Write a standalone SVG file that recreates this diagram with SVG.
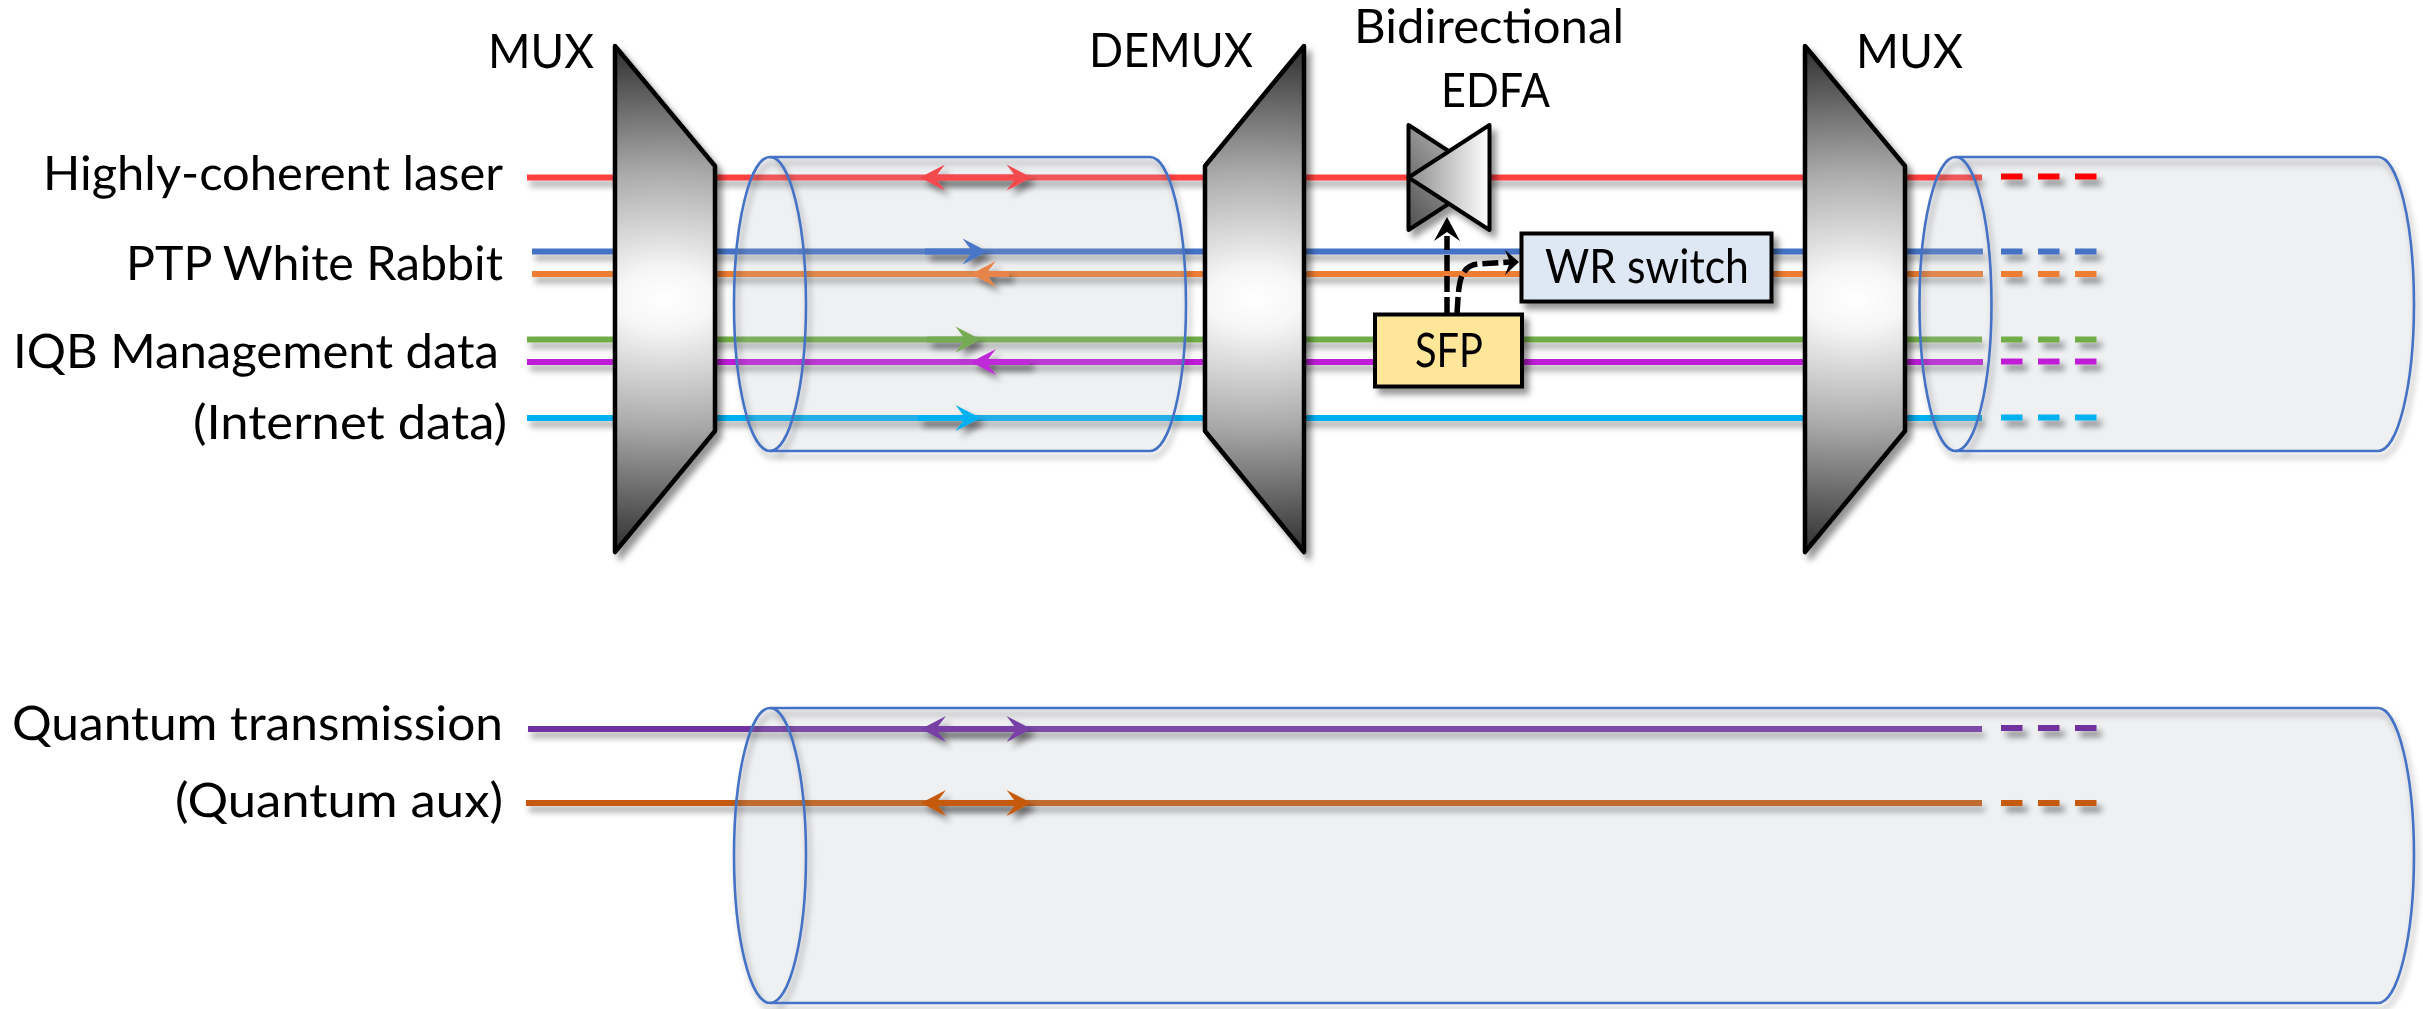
<svg xmlns="http://www.w3.org/2000/svg" width="2423" height="1009" viewBox="0 0 2423 1009">
<style>
text{font-family:"Lato","Liberation Sans",sans-serif;font-size:47.500px;fill:#000;text-rendering:geometricPrecision}
.ln{stroke-width:6;fill:none}
.dash{stroke-width:6;fill:none;stroke-dasharray:21.5 15.5}
.tube{fill:#afb4be;fill-opacity:.2;stroke:none}
.tubeo{fill:none;stroke:#4472c4;stroke-width:2.6}
.mux{fill:url(#muxg);stroke:#000;stroke-width:4.500;stroke-linejoin:round}
.edfa{stroke:#000;stroke-width:4;stroke-linejoin:round}
.box{stroke:#000;stroke-width:4}
.dk{fill:none;stroke:#000;stroke-width:5.500;stroke-dasharray:16 5}
</style>
<defs>
<filter id="sh" filterUnits="userSpaceOnUse" x="0" y="0" width="2423" height="1009"><feDropShadow dx="5" dy="6" stdDeviation="3" flood-color="#000" flood-opacity=".42"/></filter>
<filter id="sha" filterUnits="userSpaceOnUse" x="0" y="0" width="2423" height="1009"><feDropShadow dx="5" dy="6" stdDeviation="3" flood-color="#000" flood-opacity=".45"/></filter>
<filter id="shl" filterUnits="userSpaceOnUse" x="0" y="0" width="2423" height="1009"><feDropShadow dx="3" dy="6" stdDeviation="3" flood-color="#000" flood-opacity=".34"/></filter>
<radialGradient id="muxg" cx=".5" cy=".5" r=".5" gradientTransform="translate(.5 .5) scale(8 1) translate(-.5 -.5)">
<stop offset="0" stop-color="#fff"/><stop offset=".12" stop-color="#f6f6f6"/><stop offset=".5" stop-color="#ababab"/><stop offset="1" stop-color="#303030"/>
</radialGradient>
<linearGradient id="edfaL" x1="0" y1="1" x2="1" y2="0"><stop offset="0" stop-color="#4f4f4f"/><stop offset="1" stop-color="#d4d4d4"/></linearGradient>
<linearGradient id="edfaR" x1="0" y1=".5" x2="1" y2=".5"><stop offset="0" stop-color="#8c8c8c"/><stop offset="1" stop-color="#fff"/></linearGradient>
<path id="hd" d="M0,0 L-25,-13 L-15,0 L-25,13Z"/>
</defs>
<rect width="2423" height="1009" fill="#fff"/>

<g id="connectors" filter="url(#shl)">
<line class="ln" x1="527" y1="177.500" x2="1982" y2="177.500" stroke="#ff4040"/>
<line class="ln" x1="532" y1="251.500" x2="1983" y2="251.500" stroke="#4472c4"/>
<line class="ln" x1="532" y1="274" x2="1983" y2="274" stroke="#ed7d31"/>
<line class="ln" x1="527" y1="339.500" x2="1982" y2="339.500" stroke="#70ad47"/>
<line class="ln" x1="527" y1="362" x2="1983" y2="362" stroke="#bf1fd8"/>
<line class="ln" x1="527" y1="418" x2="1982" y2="418" stroke="#00b0f0"/>
<line class="ln" x1="528" y1="729" x2="1982" y2="729" stroke="#7030a0"/>
<line class="ln" x1="526" y1="803" x2="1982" y2="803" stroke="#c55a11"/>
</g>

<g id="fibre-1"><path class="tube" d="M770,157 L1150,157 A36,147 0 0 1 1150,451 L770,451 A36,147 0 0 1 770,157Z"/><g filter="url(#shl)"><path class="tubeo" d="M770,157 L1150,157 A36,147 0 0 1 1150,451 L770,451"/><ellipse class="tubeo" cx="770" cy="304" rx="36" ry="147"/></g></g>
<g id="fibre-2"><path class="tube" d="M1955.500,157 L2378,157 A36,147 0 0 1 2378,451 L1955.500,451 A36,147 0 0 1 1955.500,157Z"/><g filter="url(#shl)"><path class="tubeo" d="M1955.500,157 L2378,157 A36,147 0 0 1 2378,451 L1955.500,451"/><ellipse class="tubeo" cx="1955.500" cy="304" rx="36" ry="147"/></g></g>
<g id="fibre-3"><path class="tube" d="M770,708 L2378,708 A36,147.500 0 0 1 2378,1003 L770,1003 A36,147.500 0 0 1 770,708Z"/><g filter="url(#shl)"><path class="tubeo" d="M770,708 L2378,708 A36,147.500 0 0 1 2378,1003 L770,1003"/><ellipse class="tubeo" cx="770" cy="855.500" rx="36" ry="147.500"/></g></g>

<g id="connector-arrows" filter="url(#sha)">
<g id="arrow-red" fill="#f44a4e"><line class="ln" x1="930" y1="177.500" x2="1020" y2="177.500" stroke="#f44a4e"/><use href="#hd" transform="translate(1031.500 177.500)"/><use href="#hd" transform="translate(920 177.500) scale(-1 1)"/></g>
<g id="arrow-blue" fill="#4a76c6"><line class="ln" x1="925" y1="251.500" x2="975" y2="251.500" stroke="#4a76c6"/><use href="#hd" transform="translate(987.500 251.500)"/></g>
<g id="arrow-orange" fill="#e6844a"><line class="ln" x1="1009" y1="274" x2="985" y2="274" stroke="#e6844a"/><use href="#hd" transform="translate(971 274) scale(-1 1)"/></g>
<g id="arrow-green" fill="#74ab52"><line class="ln" x1="927" y1="339.500" x2="968" y2="339.500" stroke="#74ab52"/><use href="#hd" transform="translate(980.500 339.500)"/></g>
<g id="arrow-purple" fill="#bf2cd8"><line class="ln" x1="1029" y1="362" x2="985" y2="362" stroke="#bf2cd8"/><use href="#hd" transform="translate(971 362) scale(-1 1)"/></g>
<g id="arrow-cyan" fill="#00b0f0"><line class="ln" x1="918" y1="418" x2="968" y2="418" stroke="#00b0f0"/><use href="#hd" transform="translate(980.500 418)"/></g>
<g id="arrow-qt" fill="#7840a5"><line class="ln" x1="930" y1="729" x2="1020" y2="729" stroke="#7840a5"/><use href="#hd" transform="translate(1031.500 729)"/><use href="#hd" transform="translate(921 729) scale(-1 1)"/></g>
<g id="arrow-qa" fill="#c55a11"><line class="ln" x1="930" y1="803" x2="1020" y2="803" stroke="#c55a11"/><use href="#hd" transform="translate(1031.500 803)"/><use href="#hd" transform="translate(921 803) scale(-1 1)"/></g>
<path class="dash" d="M2001,176.500H2097" stroke="#f00"/>
<path class="dash" d="M2001,251.500H2097" stroke="#4472c4"/>
<path class="dash" d="M2001,274H2097" stroke="#ed7d31"/>
<path class="dash" d="M2001,339.500H2097" stroke="#70ad47"/>
<path class="dash" d="M2001,361.500H2097" stroke="#bf1fd8"/>
<path class="dash" d="M2001,417.500H2097" stroke="#00b0f0"/>
<path class="dash" d="M2001,728H2097" stroke="#7030a0"/>
<path class="dash" d="M2001,803H2097" stroke="#c55a11"/>
</g>

<g id="mux-1" filter="url(#sh)"><path class="mux" d="M615,46 L715,166 L715,431 L615,552Z"/></g>
<g id="demux" filter="url(#sh)"><path class="mux" d="M1304,46 L1205,166 L1205,431 L1304,552Z"/></g>
<g id="mux-2" filter="url(#sh)"><path class="mux" d="M1805,46 L1905,166 L1905,431 L1805,552Z"/></g>

<g id="edfa" filter="url(#sh)">
<path class="edfa" fill="url(#edfaL)" d="M1408.500,125 L1489,177.500 L1408.500,230Z"/>
<path class="edfa" fill="url(#edfaR)" d="M1489.500,125 L1408.500,177.500 L1489.500,230Z"/>
</g>
<g id="wr-switch" filter="url(#sh)"><rect class="box" x="1521.500" y="233.500" width="250" height="68" fill="#dee8f5"/></g>
<g id="sfp" filter="url(#sh)"><rect class="box" x="1375" y="314.500" width="147" height="72" fill="#ffe699"/></g>

<g id="control-arrows">
<path class="dk" d="M1447,313 V236"/>
<path d="M1447,217 L1434,241 L1447,232 L1460,241Z" fill="#000"/>
<path class="dk" d="M1457,313 C1459,290 1457,266 1478,264 L1510,262"/>
<path d="M1519,262 L1505,250 L1510,262 L1505,275Z" fill="#000"/>
</g>

<g id="labels">
<text x="43" y="190" textLength="460" lengthAdjust="spacingAndGlyphs">Highly-coherent laser</text>
<text x="126" y="280" textLength="377" lengthAdjust="spacingAndGlyphs">PTP White Rabbit</text>
<text x="13" y="368" textLength="486" lengthAdjust="spacingAndGlyphs">IQB Management data</text>
<text x="193" y="439" textLength="314" lengthAdjust="spacingAndGlyphs">(Internet data)</text>
<text x="12" y="740" textLength="491" lengthAdjust="spacingAndGlyphs">Quantum transmission</text>
<text x="175" y="817" textLength="328" lengthAdjust="spacingAndGlyphs">(Quantum aux)</text>
<text x="488" y="68" textLength="106" lengthAdjust="spacingAndGlyphs">MUX</text>
<text x="1089" y="67" textLength="164" lengthAdjust="spacingAndGlyphs">DEMUX</text>
<text x="1856" y="68" textLength="107" lengthAdjust="spacingAndGlyphs">MUX</text>
<text x="1354" y="43" textLength="270" lengthAdjust="spacingAndGlyphs">Bidirectional</text>
<text x="1441" y="107" textLength="109" lengthAdjust="spacingAndGlyphs">EDFA</text>
<text x="1545" y="283" textLength="204" lengthAdjust="spacingAndGlyphs">WR switch</text>
<text x="1415" y="367" textLength="68" lengthAdjust="spacingAndGlyphs">SFP</text>
</g>
</svg>
